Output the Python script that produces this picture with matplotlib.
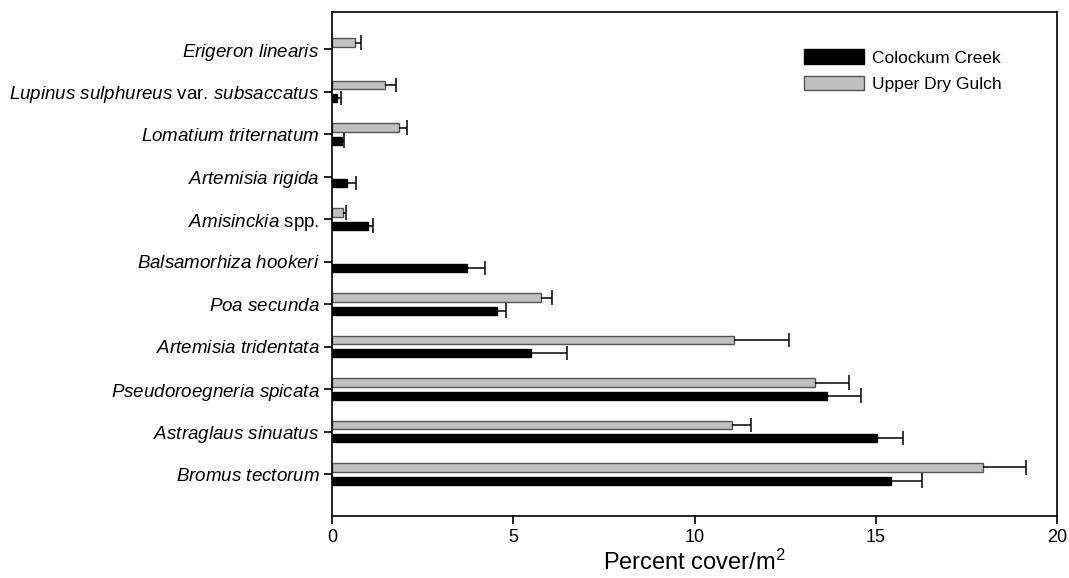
import numpy as np
import matplotlib
matplotlib.use("Agg")
import matplotlib.pyplot as plt
from matplotlib.patches import Patch

plt.rcParams['font.family'] = ['Liberation Sans', 'DejaVu Sans']
plt.rcParams['mathtext.fontset'] = 'custom'
plt.rcParams['mathtext.it'] = 'Liberation Sans:italic'
plt.rcParams['mathtext.rm'] = 'Liberation Sans'

# Categories from bottom to top
species = [
    r"$\mathit{Bromus\ tectorum}$",
    r"$\mathit{Astraglaus\ sinuatus}$",
    r"$\mathit{Pseudoroegneria\ spicata}$",
    r"$\mathit{Artemisia\ tridentata}$",
    r"$\mathit{Poa\ secunda}$",
    r"$\mathit{Balsamorhiza\ hookeri}$",
    r"$\mathit{Amisinckia}$ spp.",
    r"$\mathit{Artemisia\ rigida}$",
    r"$\mathit{Lomatium\ triternatum}$",
    r"$\mathit{Lupinus\ sulphureus}$ var. $\mathit{subsaccatus}$",
    r"$\mathit{Erigeron\ linearis}$",
]

colockum_mean = [15.41, 15.02, 13.66, 5.48, 4.56, 3.72, 1.00, 0.42, 0.27, 0.15, np.nan]
colockum_err  = [0.86, 0.74, 0.92, 0.99, 0.23, 0.49, 0.14, 0.23, 0.05, 0.09, np.nan]
upper_mean    = [17.96, 11.04, 13.32, 11.10, 5.77, np.nan, 0.29, np.nan, 1.86, 1.45, 0.62]
upper_err     = [1.18, 0.51, 0.95, 1.50, 0.31, np.nan, 0.09, np.nan, 0.21, 0.32, 0.18]

series_names = ["Colockum Creek", "Upper Dry Gulch"]
xticks = [0, 5, 10, 15, 20]

fig = plt.figure(figsize=(10.69, 5.78), dpi=100)
ax = fig.add_axes([0.3106, 0.107, 0.9888 - 0.3106, 0.979 - 0.107])

y = np.arange(len(species))
h = 0.19
off = 0.155
cap = 0.17
gray = "#c0c0c0"

ax.barh(y + off, upper_mean, height=h, color=gray, edgecolor="#555555", linewidth=1.0, zorder=2)
ax.barh(y - off, colockum_mean, height=h, color="black", edgecolor="black", linewidth=1.0, zorder=2)

for means, errs, yy in ((np.array(upper_mean), np.array(upper_err), y + off),
                        (np.array(colockum_mean), np.array(colockum_err), y - off)):
    ok = ~np.isnan(means)
    ends = means[ok] + errs[ok]
    ax.hlines(yy[ok], means[ok], ends, color='black', linewidth=1.1, zorder=3)
    ax.vlines(ends, yy[ok] - cap, yy[ok] + cap, color='black', linewidth=1.1, zorder=3)

ax.set_yticks(y)
ax.set_yticklabels(species, fontsize=13.5)
ax.set_xticks(xticks)
ax.set_xticklabels([str(t) for t in xticks], fontsize=13)
ax.set_xlim(0, 20)
ax.set_ylim(-0.99, 10.87)
ax.tick_params(axis='both', direction='out', length=6, width=1.2, colors='black', pad=3)
for s in ax.spines.values():
    s.set_linewidth(1.2)
ax.set_xlabel("Percent cover/m$^{2}$", fontsize=17, labelpad=3)

handles = [Patch(facecolor='black', edgecolor='black'),
           Patch(facecolor=gray, edgecolor='#555555')]
leg = ax.legend(handles, series_names, loc='upper right', bbox_to_anchor=(0.945, 0.957),
                frameon=False, fontsize=12.5, handlelength=3.45, handleheight=0.9,
                handletextpad=0.45, labelspacing=0.6)

fig.savefig("out.png", dpi=100)
